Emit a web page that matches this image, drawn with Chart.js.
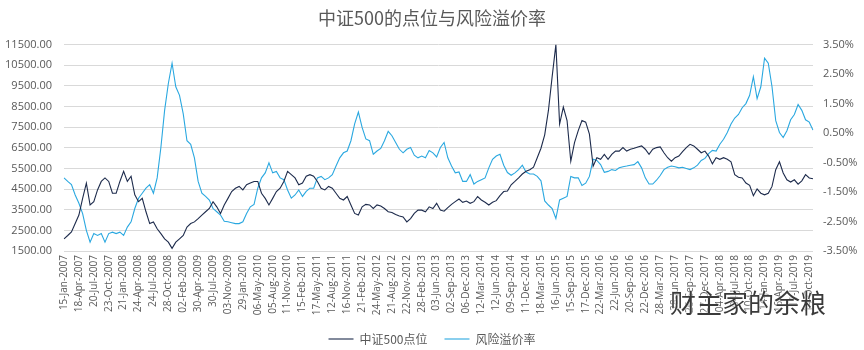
<!DOCTYPE html>
<html>
<head>
<meta charset="utf-8">
<script src="https://cdn.jsdelivr.net/npm/chart.js@4.4.1/dist/chart.umd.min.js"></script>
<style>
	html, body { margin: 0; padding: 0; background: #fff; }
	#wrap { position: relative; width: 864px; height: 350px; }
	#mark {
		position: absolute; left: 670px; top: 283px;
		font: 26px "Noto Sans CJK SC"; color: #3a3a3a;
		text-shadow: 0 0 2px #fff, 0 0 2px #fff;
		pointer-events: none;
	}
</style>
</head>
<body>
<div id="wrap">
	<canvas id="chart-csi500-premium" width="864" height="350"></canvas>
	<div id="mark">财主家的余粮</div>
</div>
<script>
// Tick labels along the date axis (one every 4 points)
const TICK_LABELS = [
	"15-Jan-2007", "18-Apr-2007", "20-Jul-2007", "23-Oct-2007", "21-Jan-2008", "24-Apr-2008", "24-Jul-2008",
	"28-Oct-2008", "02-Feb-2009", "30-Apr-2009", "30-Jul-2009", "03-Nov-2009", "29-Jan-2010", "06-May-2010",
	"05-Aug-2010", "11-Nov-2010", "15-Feb-2011", "17-May-2011", "12-Aug-2011", "16-Nov-2011", "21-Feb-2012",
	"24-May-2012", "21-Aug-2012", "22-Nov-2012", "28-Feb-2013", "03-Jun-2013", "02-Sep-2013", "06-Dec-2013",
	"12-Mar-2014", "12-Jun-2014", "09-Sep-2014", "11-Dec-2014", "18-Mar-2015", "16-Jun-2015", "15-Sep-2015",
	"17-Dec-2015", "22-Mar-2016", "22-Jun-2016", "20-Sep-2016", "22-Dec-2016", "28-Mar-2017", "28-Jun-2017",
	"26-Sep-2017", "27-Dec-2017", "04-Apr-2018", "04-Jul-2018", "10-Oct-2018", "14-Jan-2019", "16-Apr-2019",
	"11-Jul-2019", "14-Oct-2019",
];
const POINTS_PER_TICK = 4;

// 中证500点位 (left axis)
const CSI500 = [
	2090, 2250, 2420, 2830, 3240, 4050, 4790, 3730, 3890, 4460,
	4870, 5040, 4870, 4300, 4300, 4870, 5360, 4870, 5120, 4220,
	3890, 4050, 3400, 2830, 2910, 2580, 2340, 2090, 1930, 1630,
	1930, 2090, 2250, 2660, 2830, 2910, 3070, 3240, 3400, 3560,
	3890, 3640, 3320, 3730, 4050, 4380, 4540, 4630, 4460, 4710,
	4790, 4870, 4870, 4300, 4050, 3730, 4050, 4380, 4540, 4870,
	5360, 5200, 5040, 4710, 4790, 5120, 5200, 5120, 4870, 4540,
	4460, 4630, 4540, 4300, 4050, 3970, 4140, 3730, 3320, 3240,
	3640, 3760, 3730, 3560, 3730, 3680, 3560, 3400, 3370, 3270,
	3200, 3150, 2910, 3070, 3320, 3480, 3480, 3400, 3640, 3560,
	3810, 3480, 3430, 3600, 3760, 3890, 4020, 3860, 3920, 3810,
	3890, 4140, 3970, 3860, 3730, 3860, 3940, 4180, 4380, 4410,
	4710, 4870, 5040, 5230, 5360, 5440, 5560, 6020, 6480, 7130,
	8310, 9950, 11500, 7650, 8470, 7820, 5850, 6750, 7330, 7820,
	7740, 7160, 5610, 6020, 5940, 6180, 5940, 6180, 6340, 6340,
	6510, 6340, 6430, 6480, 6540, 6590, 6430, 6180, 6430, 6510,
	6540, 6260, 6020, 5850, 6020, 6100, 6310, 6510, 6670, 6590,
	6430, 6260, 6340, 6100, 5720, 6020, 5940, 6020, 5940, 5820,
	5200, 5070, 5040, 4790, 4680, 4180, 4510, 4300, 4220, 4300,
	4630, 5440, 5820, 5280, 4950, 4840, 4950, 4740, 4900, 5200,
	5040, 5000,
];

// 风险溢价率, in % (right axis)
const RISK_PREMIUM = [
	-1.02, -1.14, -1.25, -1.60, -1.88, -2.23, -2.80, -3.20, -2.91, -2.97,
	-2.91, -3.20, -2.91, -2.86, -2.91, -2.86, -2.97, -2.69, -2.51, -2.06,
	-1.71, -1.54, -1.37, -1.25, -1.54, -1.02, 0.01, 1.27, 2.18, 2.87,
	2.07, 1.78, 1.15, 0.24, 0.12, -0.34, -1.14, -1.54, -1.65, -1.77,
	-2.06, -2.17, -2.28, -2.49, -2.51, -2.54, -2.57, -2.57, -2.51, -2.23,
	-2.00, -1.92, -1.37, -1.02, -0.85, -0.51, -0.85, -0.80, -1.02, -1.08,
	-1.43, -1.71, -1.60, -1.43, -1.65, -1.48, -1.37, -1.37, -1.02, -0.97,
	-1.08, -1.02, -0.91, -0.62, -0.34, -0.17, -0.11, 0.24, 0.81, 1.21,
	0.69, 0.30, 0.24, -0.22, -0.11, -0.02, 0.24, 0.56, 0.41, 0.18,
	-0.05, -0.17, -0.05, 0.01, -0.25, -0.34, -0.28, -0.34, -0.09, -0.17,
	-0.31, 0.01, 0.18, -0.34, -0.62, -0.85, -0.82, -1.14, -1.14, -0.91,
	-1.23, -1.14, -1.08, -1.02, -0.68, -0.39, -0.28, -0.22, -0.59, -0.84,
	-0.93, -0.85, -0.74, -0.59, -0.82, -0.89, -0.89, -0.97, -1.12, -1.80,
	-1.94, -2.06, -2.40, -1.77, -1.71, -1.65, -0.97, -1.02, -1.02, -1.28,
	-1.20, -0.97, -0.39, -0.43, -0.57, -0.83, -0.80, -0.74, -0.77, -0.68,
	-0.64, -0.62, -0.59, -0.57, -0.47, -0.68, -1.02, -1.23, -1.23, -1.10,
	-0.94, -0.74, -0.66, -0.62, -0.64, -0.68, -0.66, -0.70, -0.74, -0.68,
	-0.59, -0.43, -0.36, -0.20, -0.09, -0.11, 0.12, 0.29, 0.52, 0.81,
	1.01, 1.13, 1.36, 1.50, 1.78, 2.41, 1.67, 2.07, 3.04, 2.87,
	2.07, 0.92, 0.52, 0.35, 0.58, 0.95, 1.13, 1.47, 1.27, 0.95,
	0.87, 0.60,
];

const DARK = "#1d2b4c";
const LIGHT = "#2aa8e0";
const TEXT = "#595959";
const TICK_FONT = { family: "'Open Sans'", size: 10 };

// One category per data point; only every 4th carries a date label
const CATEGORIES = CSI500.map((_, i) => (i % POINTS_PER_TICK === 0 ? TICK_LABELS[i / POINTS_PER_TICK] || "" : ""));

const CHART_DATA = {
	labels: CATEGORIES,
	datasets: [
		{
			label: "中证500点位",
			data: CSI500,
			yAxisID: "y",
			borderColor: DARK,
			backgroundColor: DARK,
			borderWidth: 1.1,
			pointRadius: 0,
			tension: 0,
		},
		{
			label: "风险溢价率",
			data: RISK_PREMIUM,
			yAxisID: "y1",
			borderColor: LIGHT,
			backgroundColor: LIGHT,
			borderWidth: 1.1,
			pointRadius: 0,
			tension: 0,
		},
	],
};

const CHART_CONFIG = {
	type: "line",
	data: CHART_DATA,
	options: {
		responsive: false,
		animation: false,
		layout: {
			padding: { left: 0, right: 0, top: 0, bottom: -5 },
		},
		scales: {
			x: {
				border: { display: false },
				grid: { display: false, drawTicks: false },
				ticks: {
					autoSkip: false,
					maxRotation: 90,
					minRotation: 90,
					padding: 4,
					color: TEXT,
					font: TICK_FONT,
				},
				afterFit: (scale) => {
					scale.height = 65;
				},
			},
			y: {
				position: "left",
				min: 1500,
				max: 11500,
				border: { display: false },
				grid: { color: "#d9d9d9", lineWidth: 1, drawTicks: false },
				ticks: {
					stepSize: 1000,
					padding: 12,
					color: TEXT,
					font: { ...TICK_FONT, size: 11 },
					callback: (value) => value.toFixed(2),
				},
				afterFit: (scale) => {
					scale.width = 64;
				},
			},
			y1: {
				position: "right",
				min: -3.5,
				max: 3.5,
				border: { display: false },
				grid: { display: false, drawTicks: false },
				ticks: {
					stepSize: 1,
					padding: 10,
					color: TEXT,
					font: { ...TICK_FONT, size: 11 },
					callback: (value) => value.toFixed(2) + "%",
				},
				afterFit: (scale) => {
					scale.width = 51;
				},
			},
		},
		plugins: {
			title: {
				display: true,
				text: "中证500的点位与风险溢价率",
				color: TEXT,
				font: { family: "'Noto Sans CJK SC'", size: 18, weight: "normal" },
				padding: { top: 7, bottom: 16 },
			},
			legend: {
				position: "bottom",
				labels: {
					usePointStyle: true,
					pointStyle: "line",
					pointStyleWidth: 25,
					padding: 17,
					color: TEXT,
					font: { family: "'Noto Sans CJK SC'", size: 12 },
				},
			},
			tooltip: { enabled: false },
		},
	},
};

new Chart(document.getElementById("chart-csi500-premium"), CHART_CONFIG);
</script>
</body>
</html>
